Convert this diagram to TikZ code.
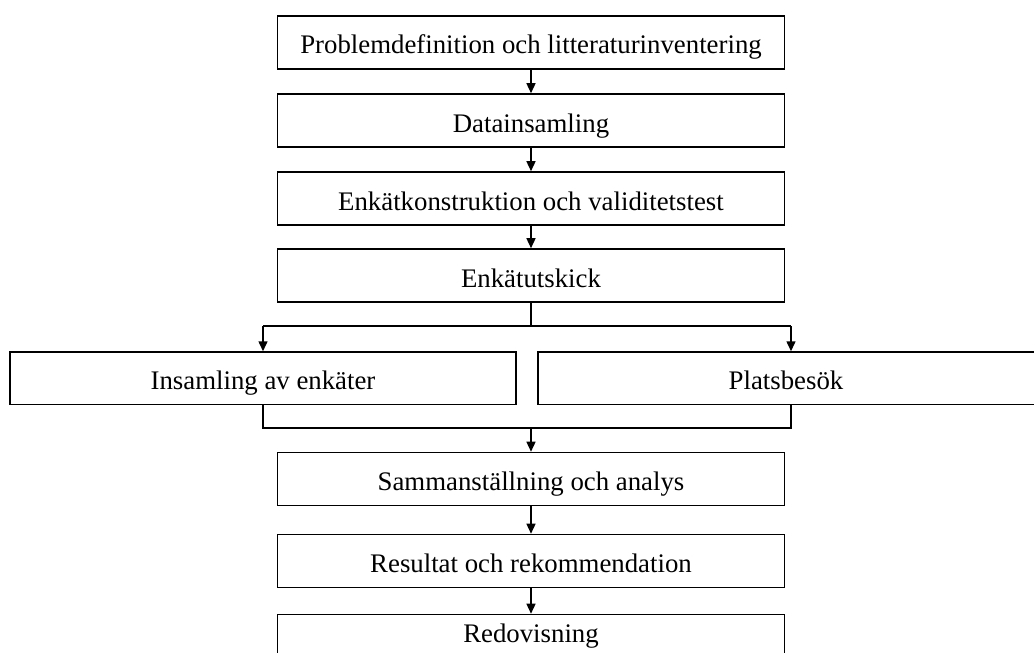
\documentclass[tikz,border=0pt]{standalone}
\usepackage{fontspec}
\setmainfont{Liberation Serif}
\usetikzlibrary{arrows.meta}
\begin{document}
\begin{tikzpicture}[x=1pt,y=-1pt,
  stepbox/.style={draw, line width=1.6pt, inner sep=0pt,
    minimum width=507pt, minimum height=53pt,
    text height=25pt, text depth=2pt,
    font=\fontsize{26.8}{30}\selectfont},
  sidebox/.style={stepbox, minimum width=506pt, minimum height=52.5pt},
  conn/.style={line width=1.5pt},
  arr/.style={conn, -{Triangle[length=10pt,width=9pt]}}]
\clip (0,0) rectangle (1034,653);
\node[stepbox] (b1) at (531,42.3) {Problemdefinition och litteraturinventering};
\node[stepbox] (b2) at (531,120.5) {Datainsamling};
\node[stepbox] (b3) at (531,198.5) {Enkätkonstruktion och validitetstest};
\node[stepbox] (b4) at (531,275.5) {Enkätutskick};
\node[sidebox] (ins) at (263,378.3) {Insamling av enkäter};
\node[sidebox] (plat) at (791,378.3) {\hspace*{-10pt}Platsbesök};
\node[stepbox] (b5) at (531,479) {Sammanställning och analys};
\node[stepbox] (b6) at (531,561) {Resultat och rekommendation};
\node[stepbox, text depth=22pt] (b7) at (531,641) {Redovisning};
\coordinate (sp) at (531,326);
\coordinate (mg) at (531,428);
\draw[arr] (b1) -- (b2);
\draw[arr] (b2) -- (b3);
\draw[arr] (b3) -- (b4);
\draw[conn] (b4.south) -- (sp);
\draw[conn] (ins.north |- sp) -- (plat.north |- sp);
\draw[arr] (ins.north |- sp) -- (ins.north);
\draw[arr] (plat.north |- sp) -- (plat.north);
\draw[conn] (ins.south) -- (ins.south |- mg) -- (plat.south |- mg) -- (plat.south);
\draw[arr] (mg) -- (b5.north);
\draw[arr] (b5) -- (b6);
\draw[arr] (b6) -- (b7);
\end{tikzpicture}
\end{document}
